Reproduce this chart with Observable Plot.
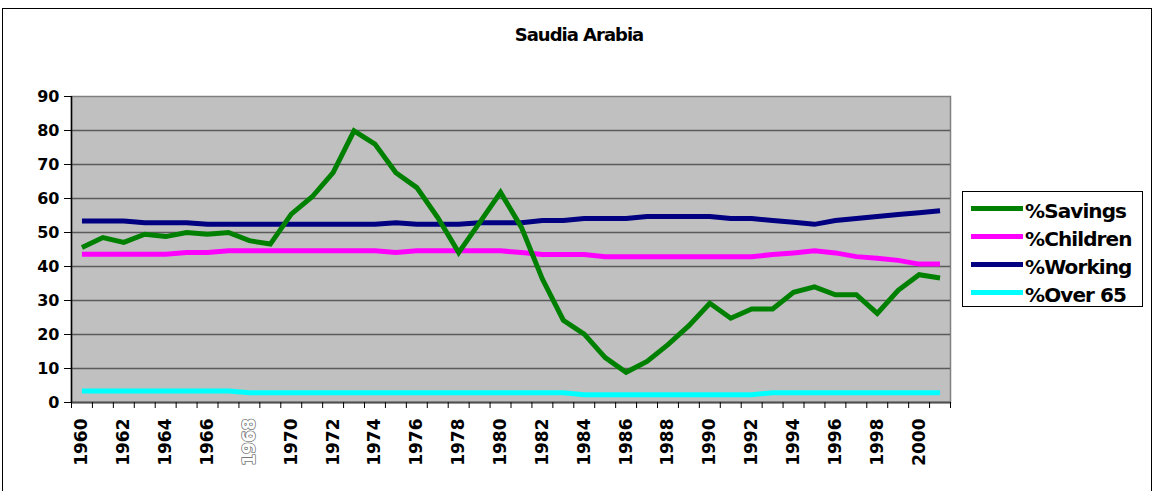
<!DOCTYPE html>
<html>
<head>
<meta charset="utf-8">
<script src="https://cdn.jsdelivr.net/npm/d3@7"></script>
<script src="https://cdn.jsdelivr.net/npm/@observablehq/plot@0.6"></script>
<style>
  html, body { margin: 0; padding: 0; background: #fff; }
  #wrap { position: relative; width: 1156px; height: 491px; overflow: hidden; font-family: "DejaVu Sans", sans-serif; }
  #border { position: absolute; left: 2px; top: 8px; width: 1150px; height: 520px; border: 1px solid #000; box-sizing: border-box; }
  #title { position: absolute; left: 0; width: 1158px; top: 24px; text-align: center; font-weight: bold; font-size: 18px; letter-spacing: -1px; color: #000; }
  #chart { position: absolute; left: 0; top: 0; }
  #chart svg text { font-weight: bold; }
  #legend { position: absolute; left: 962px; top: 191px; width: 181px; height: 116px; border: 1px solid #000; box-sizing: border-box; background: #fff; }
  .row { position: absolute; left: 0; height: 22px; display: flex; align-items: center; }
  .sw { width: 52px; height: 5px; margin-left: 8px; margin-right: 2px; position: relative; top: -3px; flex: none; }
  .lab { font-weight: bold; font-size: 20px; letter-spacing: -0.9px; white-space: nowrap; color: #000; }
</style>
</head>
<body>
<div id="wrap">
  <div id="border"></div>
  <div id="title"></div>
  <div id="chart"></div>
  <div id="legend"></div>
</div>
<script>
const title = "Saudia Arabia";
const years = d3.range(1960, 2002);
const labelYears = d3.range(1960, 2001, 2);
const yTicks = d3.range(0, 91, 10);

const seriesNames = ["%Savings", "%Children", "%Working", "%Over 65"];
const seriesColors = ["#008000", "#ff00ff", "#000080", "#00ffff"];

const savings = [45.6, 48.5, 47.1, 49.5, 48.8, 50.0, 49.5, 50.0, 47.6, 46.6,
                 55.4, 60.5, 67.6, 79.9, 76.0, 67.6, 63.2, 54.4, 44.1, 52.9,
                 61.8, 51.5, 36.3, 24.2, 20.1, 13.2, 8.9, 12.1, 17.0, 22.6,
                 29.2, 24.8, 27.5, 27.5, 32.4, 34.0, 31.7, 31.7, 26.2, 33.0,
                 37.6, 36.6];
const children = [43.6, 43.6, 43.6, 43.6, 43.6, 44.1, 44.1, 44.6, 44.6, 44.6,
                  44.6, 44.6, 44.6, 44.6, 44.6, 44.1, 44.6, 44.6, 44.6, 44.6,
                  44.6, 44.1, 43.5, 43.5, 43.5, 42.9, 42.9, 42.9, 42.9, 42.9,
                  42.9, 42.9, 42.9, 43.5, 44.0, 44.6, 44.0, 42.9, 42.4, 41.8,
                  40.7, 40.7];
const working = [53.4, 53.4, 53.4, 52.9, 52.9, 52.9, 52.4, 52.4, 52.4, 52.4,
                 52.4, 52.4, 52.4, 52.4, 52.4, 52.9, 52.4, 52.4, 52.4, 52.9,
                 52.9, 52.9, 53.5, 53.5, 54.1, 54.1, 54.1, 54.7, 54.7, 54.7,
                 54.7, 54.1, 54.1, 53.5, 53.0, 52.4, 53.5, 54.1, 54.7, 55.3,
                 55.8, 56.4];
const over65 = [3.4, 3.4, 3.4, 3.4, 3.4, 3.4, 3.4, 3.4, 2.9, 2.9,
                2.9, 2.9, 2.9, 2.9, 2.9, 2.9, 2.9, 2.9, 2.9, 2.9,
                2.9, 2.9, 2.9, 2.9, 2.3, 2.3, 2.3, 2.3, 2.3, 2.3,
                2.3, 2.3, 2.3, 2.9, 2.9, 2.9, 2.9, 2.9, 2.9, 2.9,
                2.9, 2.9];

const seriesValues = [savings, children, working, over65];

document.getElementById("title").textContent = title;

const boundaries = d3.range(years.length + 1).map(i => years[0] - 0.5 + i);

const lineMarks = seriesValues.map((vals, s) =>
  Plot.line(years, {x: d => d, y: (d, i) => vals[i], stroke: seriesColors[s], strokeWidth: 5, strokeLinejoin: "miter", strokeMiterlimit: 2, strokeLinecap: "butt"})
);
// draw order: over65, working, children, savings on top
const ordered = [lineMarks[3], lineMarks[2], lineMarks[1], lineMarks[0]];

const labelOpts = {x: d => d, text: d => String(d), frameAnchor: "bottom", rotate: -90, textAnchor: "end", lineAnchor: "middle", dy: 16, fontSize: 17, fontWeight: "bold"};

const chart = Plot.plot({
  width: 1156,
  height: 491,
  marginLeft: 71,
  marginRight: 206,
  marginTop: 96,
  marginBottom: 89,
  x: {domain: [years[0] - 0.5, years[years.length - 1] + 0.5], axis: null},
  y: {domain: [0, 90], axis: null},
  style: {background: "transparent", fontFamily: "DejaVu Sans", overflow: "visible", color: "#000"},
  marks: [
    Plot.frame({fill: "#c0c0c0", stroke: "#808080", strokeWidth: 1.5}),
    Plot.ruleY(yTicks.filter(v => v > 0 && v < 90), {stroke: "#5a5a5a", strokeWidth: 1.5}),
    Plot.ruleY([0], {stroke: "#505050", strokeWidth: 2}),
    Plot.ruleX([boundaries[0]], {stroke: "#000", strokeWidth: 1.5}),
    Plot.axisY({ticks: yTicks, tickSize: 7, tickPadding: 5, fontSize: 16, fontWeight: "bold"}),
    Plot.ruleX(boundaries, {y1: 0, y2: 0, insetBottom: -6, stroke: "#000", strokeWidth: 1}),
    Plot.text(labelYears.filter(y => y !== 1968), {...labelOpts, fill: "#000"}),
    Plot.text(labelYears.filter(y => y === 1968), {...labelOpts, fill: "#fff", stroke: "#777", strokeWidth: 1.6}),
    ...ordered
  ]
});
document.getElementById("chart").appendChild(chart);

const legend = document.getElementById("legend");
const rowTops = [5, 33, 61, 89];
seriesNames.forEach((name, i) => {
  const row = document.createElement("div");
  row.className = "row";
  row.style.top = (rowTops[i] + 3) + "px";
  const sw = document.createElement("div");
  sw.className = "sw";
  sw.style.background = seriesColors[i];
  const lab = document.createElement("span");
  lab.className = "lab";
  lab.textContent = name;
  row.appendChild(sw);
  row.appendChild(lab);
  legend.appendChild(row);
});
</script>
</body>
</html>
